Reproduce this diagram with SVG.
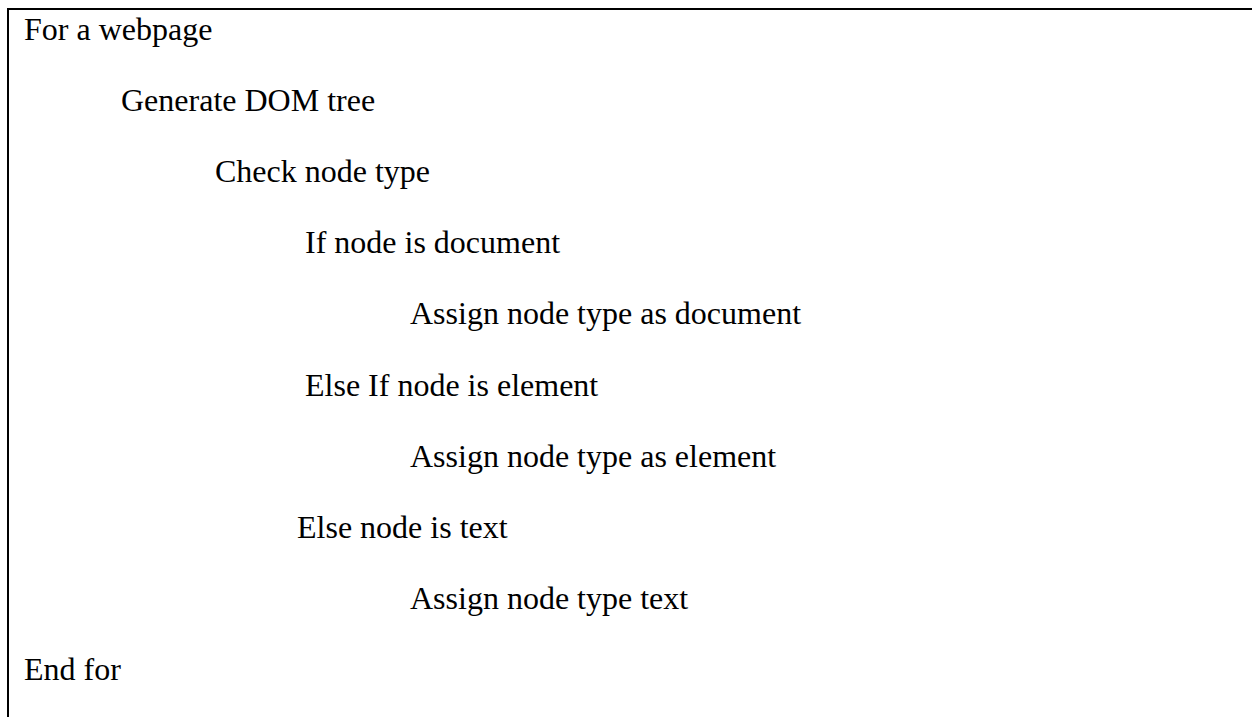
<svg xmlns="http://www.w3.org/2000/svg" width="1253" height="717" viewBox="0 0 1253 717">
<style>
text { font-family: "Liberation Serif", "Times New Roman", serif; font-size: 32px; fill: #000; }
.border { stroke: #000; stroke-width: 2; fill: none; }
</style>
<rect x="0" y="0" width="1253" height="717" fill="#fff"/>
<path class="border" d="M8 717 V9 H1252"/>
<text x="24" y="39.5">For a webpage</text>
<text x="121" y="110.7">Generate DOM tree</text>
<text x="215" y="181.9">Check node type</text>
<text x="305" y="253.1">If node is document</text>
<text x="410" y="324.3">Assign node type as document</text>
<text x="305" y="395.5">Else If node is element</text>
<text x="410" y="466.7">Assign node type as element</text>
<text x="297" y="537.9">Else node is text</text>
<text x="410" y="609.1">Assign node type text</text>
<text x="24" y="680.3">End for</text>
</svg>
